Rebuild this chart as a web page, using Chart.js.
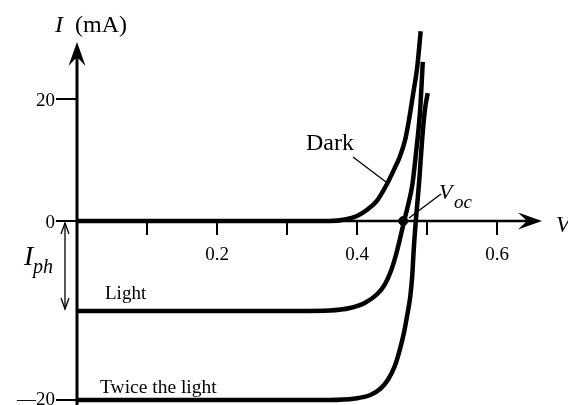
<!DOCTYPE html>
<html>
<head>
<meta charset="utf-8">
<script src="https://cdn.jsdelivr.net/npm/chart.js@4.4.1/dist/chart.umd.min.js"></script>
<style>
  html, body { margin: 0; padding: 0; background: #fff; }
  #wrap { width: 568px; height: 405px; }
</style>
</head>
<body>
<div id="wrap"><canvas id="chart" width="568" height="405"></canvas></div>
<script>
// Voltage (V) and current (mA)
const darkV  = [0, 0.361, 0.383, 0.4, 0.414, 0.429, 0.443, 0.454, 0.461, 0.469, 0.474, 0.48, 0.486, 0.491];
const darkI  = [0, 0, 0.25, 0.82, 1.8, 3.4, 6.1, 8.7, 10.5, 13.4, 16.4, 20.7, 25.2, 31.1];

const lightV = [0, 0.319, 0.361, 0.39, 0.411, 0.429, 0.44, 0.449, 0.456, 0.461, 0.467, 0.473, 0.479, 0.484, 0.49, 0.494];
const lightI = [-14.75, -14.75, -14.67, -14.26, -13.44, -11.97, -10.33, -8.03, -5.41, -3.11, -0.16, 2.62, 5.9, 10.82, 17.87, 26.07];

const twiceV = [0, 0.361, 0.397, 0.419, 0.433, 0.444, 0.454, 0.461, 0.467, 0.471, 0.476, 0.479, 0.481, 0.484, 0.489, 0.493, 0.497, 0.501];
const twiceI = [-29.34, -29.34, -29.1, -28.52, -27.54, -26.07, -23.77, -21.15, -18.36, -15.9, -12.46, -8.85, -4.75, 0, 6.72, 13.28, 18.2, 20.98];

// open circuit voltage point
const vocPoint = [0.466, 0];

const xTickValues = [0.1, 0.2, 0.3, 0.4, 0.5, 0.6];
const xTickLabels = ['', '0.2', '', '0.4', '', '0.6'];
const yTickValues = [20, 0, -29.34];
const yTickLabels = ['20', '0', '\u201420'];

const SERIF = '"Liberation Serif", "DejaVu Serif", serif';

function toPoints(xs, ys) {
  return xs.map((x, i) => ({ x: x, y: ys[i] }));
}

// barbed arrow head pointing along (dx, dy)
function arrowHead(ctx, tx, ty, dx, dy) {
  const len = 24, half = 8.5, notch = 15;
  const px = -dy, py = dx;
  ctx.beginPath();
  ctx.moveTo(tx, ty);
  ctx.lineTo(tx - dx * len + px * half, ty - dy * len + py * half);
  ctx.lineTo(tx - dx * notch, ty - dy * notch);
  ctx.lineTo(tx - dx * len - px * half, ty - dy * len - py * half);
  ctx.closePath();
  ctx.fill();
}

function openHead(ctx, tx, ty, dir) {
  ctx.beginPath();
  ctx.moveTo(tx - 4, ty - dir * 11);
  ctx.lineTo(tx, ty);
  ctx.lineTo(tx + 4, ty - dir * 11);
  ctx.stroke();
}

function text(ctx, str, x, y, size, italic, align) {
  ctx.font = (italic ? 'italic ' : '') + size + 'px ' + SERIF;
  ctx.textAlign = align || 'left';
  ctx.textBaseline = 'alphabetic';
  ctx.fillText(str, x, y);
}

const axesPlugin = {
  id: 'axes',
  beforeDatasetsDraw(chart) {
    const ctx = chart.ctx, xs = chart.scales.x, ys = chart.scales.y;
    const x0 = xs.getPixelForValue(0), y0 = ys.getPixelForValue(0);
    ctx.save();
    ctx.strokeStyle = '#000';
    ctx.fillStyle = '#000';

    // vertical axis with arrow
    ctx.lineWidth = 3;
    ctx.beginPath(); ctx.moveTo(x0, 405); ctx.lineTo(x0, 55); ctx.stroke();
    arrowHead(ctx, x0, 42, 0, -1);

    // horizontal axis with arrow
    ctx.lineWidth = 2.5;
    ctx.beginPath(); ctx.moveTo(x0, y0); ctx.lineTo(530, y0); ctx.stroke();
    arrowHead(ctx, 542, y0, 1, 0);

    // x ticks and labels
    ctx.lineWidth = 2;
    xTickValues.forEach((v, i) => {
      const px = xs.getPixelForValue(v);
      ctx.beginPath(); ctx.moveTo(px, y0); ctx.lineTo(px, y0 + 14); ctx.stroke();
      if (xTickLabels[i]) text(ctx, xTickLabels[i], px, y0 + 39, 19, false, 'center');
    });

    // y ticks and labels (bottom one sits on the edge of the page)
    yTickValues.forEach((v, i) => {
      const py = ys.getPixelForValue(v);
      ctx.beginPath(); ctx.moveTo(x0 - 21, py); ctx.lineTo(x0, py); ctx.stroke();
      text(ctx, yTickLabels[i], x0 - 22, Math.min(py + 7, 405), 19, false, 'right');
    });
    ctx.restore();
  },
  afterDatasetsDraw(chart) {
    const ctx = chart.ctx, ys = chart.scales.y;
    const y0 = ys.getPixelForValue(0);
    ctx.save();
    ctx.fillStyle = '#000';
    ctx.strokeStyle = '#000';

    // axis titles
    text(ctx, 'I', 55, 32, 24, true);
    text(ctx, '(mA)', 75, 32, 24, false);
    text(ctx, 'V', 556, 232, 23, true);

    // curve labels
    text(ctx, 'Dark', 306, 150, 24, false);
    text(ctx, 'Light', 105, 299, 19, false);
    text(ctx, 'Twice the light', 100, 393, 19.5, false);

    ctx.lineWidth = 1.3;
    ctx.beginPath(); ctx.moveTo(353, 157); ctx.lineTo(386, 182); ctx.stroke();

    // V_oc label and pointer
    text(ctx, 'V', 439, 199, 22, true);
    text(ctx, 'oc', 454, 208, 19, true);
    ctx.beginPath(); ctx.moveTo(441, 194); ctx.lineTo(409, 218); ctx.stroke();

    // I_ph double arrow
    const yl = ys.getPixelForValue(lightI[0]);
    ctx.beginPath(); ctx.moveTo(65, y0 + 2); ctx.lineTo(65, yl - 2); ctx.stroke();
    openHead(ctx, 65, y0 + 2, -1);
    openHead(ctx, 65, yl - 2, 1);
    text(ctx, 'I', 24, 265, 28, true);
    text(ctx, 'ph', 33, 273, 20, true);
    ctx.restore();
  }
};

const curve = (pts) => ({
  data: pts,
  borderColor: '#000',
  borderWidth: 4.5,
  pointRadius: 0,
  fill: false,
  cubicInterpolationMode: 'monotone',
  clip: false
});

new Chart(document.getElementById('chart'), {
  type: 'line',
  data: {
    datasets: [
      curve(toPoints(darkV, darkI)),
      curve(toPoints(lightV, lightI)),
      curve(toPoints(twiceV, twiceI)),
      {
        data: [{ x: vocPoint[0], y: vocPoint[1] }],
        showLine: false,
        pointRadius: 4.5,
        pointBackgroundColor: '#000',
        pointBorderColor: '#000',
        clip: false
      }
    ]
  },
  options: {
    responsive: false,
    animation: false,
    events: [],
    layout: { autoPadding: false, padding: { left: 77, right: 29, top: 30, bottom: 0 } },
    plugins: { legend: { display: false }, tooltip: { enabled: false } },
    scales: {
      x: { type: 'linear', min: 0, max: 0.66, display: false },
      y: { type: 'linear', min: -30.16, max: 31.31, display: false }
    }
  },
  plugins: [axesPlugin]
});
</script>
</body>
</html>
